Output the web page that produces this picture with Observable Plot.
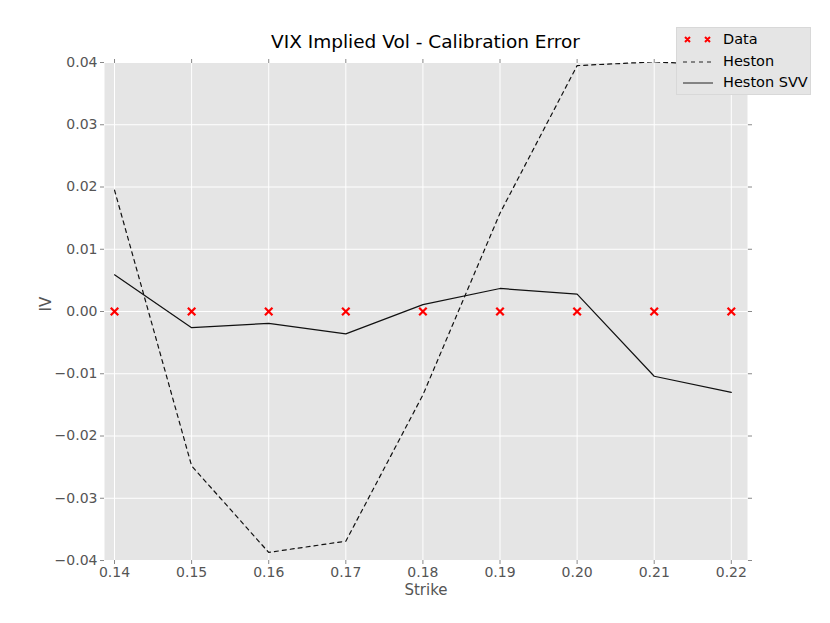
<!DOCTYPE html>
<html>
<head>
<meta charset="utf-8">
<script src="https://cdn.jsdelivr.net/npm/d3@7"></script>
<script src="https://cdn.jsdelivr.net/npm/@observablehq/plot@0.6"></script>
<style>
  body { margin: 0; background: #fff; font-family: "DejaVu Sans", sans-serif; }
  #wrap { position: relative; width: 830px; height: 623px; }
  #title { position: absolute; left: 104px; width: 643px; top: 31px; text-align: center; font-size: 18.5px; color: #000; }
  #legend { position: absolute; left: 676px; top: 27px; width: 135px; height: 68px; background: #e5e5e5; border: 1px solid #d8d8d8; box-sizing: border-box; font-size: 14.5px; }
  .row { position: absolute; left: 0; height: 20px; width: 100%; }
  .row svg { position: absolute; left: 4px; top: 0; }
  .row span { position: absolute; left: 46px; top: 1px; color: #000; }
</style>
</head>
<body>
<div id="wrap">
  <div id="chart"></div>
  <div id="title">VIX Implied Vol - Calibration Error</div>
  <div id="legend"></div>
</div>
<script>
const strikes = [0.14, 0.15, 0.16, 0.17, 0.18, 0.19, 0.20, 0.21, 0.22];
const dataIV = [0, 0, 0, 0, 0, 0, 0, 0, 0];
const heston = [0.0195, -0.0248, -0.0387, -0.0369, -0.0134, 0.0158, 0.0395, 0.0401, 0.0395];
const hestonSVV = [0.0059, -0.0026, -0.0019, -0.0036, 0.0011, 0.0037, 0.0028, -0.0104, -0.0130];
const xTicks = [0.14, 0.15, 0.16, 0.17, 0.18, 0.19, 0.20, 0.21, 0.22];
const yTicks = [-0.04, -0.03, -0.02, -0.01, 0.00, 0.01, 0.02, 0.03, 0.04];
const legendLabels = ["Data", "Heston", "Heston SVV"];
const xLabel = "Strike";
const yLabel = "IV";

const rows = strikes.map((s, i) => ({strike: s, data: dataIV[i], heston: heston[i], svv: hestonSVV[i]}));
const fmt = d3.format(".2f");

const chart = Plot.plot({
  width: 830,
  height: 623,
  marginLeft: 104,
  marginRight: 83,
  marginTop: 62,
  marginBottom: 63,
  style: {fontFamily: "DejaVu Sans, sans-serif", fontSize: "14px", color: "#555", background: "#fff"},
  x: {domain: [0.1387, 0.2221], ticks: xTicks, tickFormat: fmt, label: null},
  y: {domain: [-0.04, 0.04], ticks: yTicks, tickFormat: fmt, label: null},
  marks: [
    Plot.frame({fill: "#e5e5e5", stroke: null}),
    Plot.gridX(xTicks, {stroke: "#fff", strokeOpacity: 1, strokeWidth: 1}),
    Plot.gridY(yTicks, {stroke: "#fff", strokeOpacity: 1, strokeWidth: 1}),
    Plot.axisX(xTicks, {anchor: "bottom", tickSize: 4, tickPadding: 3, stroke: "#888", fill: "#555", fontSize: 14, tickFormat: fmt, label: null}),
    Plot.axisX(xTicks, {anchor: "top", tickSize: 4, stroke: "#888", tickFormat: () => "", label: null}),
    Plot.axisY(yTicks, {anchor: "left", tickSize: 4, tickPadding: 3, stroke: "#888", fill: "#555", fontSize: 14, tickFormat: fmt, label: null}),
    Plot.axisY(yTicks, {anchor: "right", tickSize: 4, stroke: "#888", tickFormat: () => "", label: null}),
    Plot.text([xLabel], {frameAnchor: "bottom", dy: 34, fontSize: 15, fill: "#555", text: d => d}),
    Plot.text([yLabel], {frameAnchor: "left", dx: -58, rotate: -90, fontSize: 15, fill: "#555", text: d => d}),
    Plot.line(rows, {x: "strike", y: "heston", stroke: "#111", strokeWidth: 1.2, strokeDasharray: "4,4", clip: true}),
    Plot.line(rows, {x: "strike", y: "svv", stroke: "#111", strokeWidth: 1.2, clip: true}),
    Plot.dot(rows, {x: "strike", y: "data", symbol: "times", r: 3.5, stroke: "red", strokeWidth: 2.2})
  ]
});
document.getElementById("chart").appendChild(chart);

// legend
const legend = document.getElementById("legend");
const symbols = [
  `<svg width="40" height="20"><path d="M4,7 L9,12 M9,7 L4,12 M24,7 L29,12 M29,7 L24,12" stroke="red" stroke-width="2"/></svg>`,
  `<svg width="40" height="20"><line x1="2" y1="10" x2="32" y2="10" stroke="#222" stroke-width="1" stroke-dasharray="4,4"/></svg>`,
  `<svg width="40" height="20"><line x1="2" y1="10" x2="32" y2="10" stroke="#222" stroke-width="1"/></svg>`
];
legendLabels.forEach((lab, i) => {
  const r = document.createElement("div");
  r.className = "row";
  r.style.top = (2 + i * 21.5) + "px";
  r.innerHTML = symbols[i] + `<span>${lab}</span>`;
  legend.appendChild(r);
});
</script>
</body>
</html>
